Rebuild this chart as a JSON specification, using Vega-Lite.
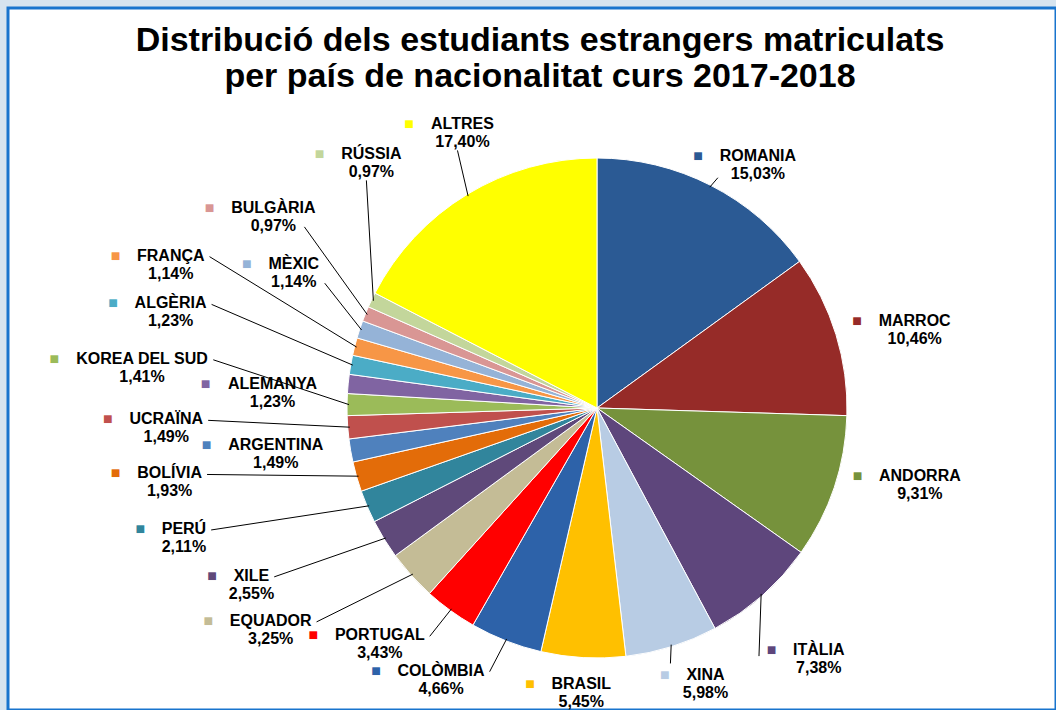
{
  "$schema": "https://vega.github.io/schema/vega-lite/v6.json",
  "width": 1056,
  "height": 710,
  "autosize": {"type": "fit", "contains": "padding"},
  "padding": {"left": 8, "top": 8, "right": 0, "bottom": 0},
  "background": "#D6E4EF",
  "view": {"fill": "#FFFFFF", "stroke": "#1874CD", "strokeWidth": 3},
  "title": {
    "text": ["Distribució dels estudiants estrangers matriculats", "per país de nacionalitat curs 2017-2018"],
    "font": "Liberation Sans",
    "fontSize": 34,
    "fontWeight": "bold",
    "color": "#000000",
    "anchor": "middle",
    "frame": "group",
    "offset": -86,
    "lineHeight": 36,
    "dx": 8
  },
  "data": {
    "values": [
      {"ordre": 1, "pais": "ROMANIA", "pct": 15.03},
      {"ordre": 2, "pais": "MARROC", "pct": 10.46},
      {"ordre": 3, "pais": "ANDORRA", "pct": 9.31},
      {"ordre": 4, "pais": "ITÀLIA", "pct": 7.38},
      {"ordre": 5, "pais": "XINA", "pct": 5.98},
      {"ordre": 6, "pais": "BRASIL", "pct": 5.45},
      {"ordre": 7, "pais": "COLÒMBIA", "pct": 4.66},
      {"ordre": 8, "pais": "PORTUGAL", "pct": 3.43},
      {"ordre": 9, "pais": "EQUADOR", "pct": 3.25},
      {"ordre": 10, "pais": "XILE", "pct": 2.55},
      {"ordre": 11, "pais": "PERÚ", "pct": 2.11},
      {"ordre": 12, "pais": "BOLÍVIA", "pct": 1.93},
      {"ordre": 13, "pais": "ARGENTINA", "pct": 1.49},
      {"ordre": 14, "pais": "UCRAÏNA", "pct": 1.49},
      {"ordre": 15, "pais": "KOREA DEL SUD", "pct": 1.41},
      {"ordre": 16, "pais": "ALEMANYA", "pct": 1.23},
      {"ordre": 17, "pais": "ALGÈRIA", "pct": 1.23},
      {"ordre": 18, "pais": "FRANÇA", "pct": 1.14},
      {"ordre": 19, "pais": "MÈXIC", "pct": 1.14},
      {"ordre": 20, "pais": "BULGÀRIA", "pct": 0.97},
      {"ordre": 21, "pais": "RÚSSIA", "pct": 0.97},
      {"ordre": 22, "pais": "ALTRES", "pct": 17.40}
    ]
  },
  "transform": [
    {"window": [{"op": "sum", "field": "pct", "as": "cum"}], "sort": [{"field": "ordre", "order": "ascending"}], "frame": [null, 0]},
    {"joinaggregate": [{"op": "sum", "field": "pct", "as": "total"}]},
    {"calculate": "(datum.cum - datum.pct / 2) / datum.total * 2 * PI", "as": "mid"},
    {"calculate": "[290, 326, 331, 335, 296, 285, 310, 319, 391, 387, 431, 431, 324, 431, 455, 324, 437, 449, 330, 372, 309, 305][datum.ordre - 1]", "as": "r"},
    {"calculate": "[29, 6, 9, 0, 20, 0, -43, -30, -36, -16, -17, -13, -2, -1, 0, -2, 4, 9, 10, 21, 53, 24][datum.ordre - 1]", "as": "ndx"},
    {"calculate": "[15, 18, -28, 0, -6, 0, -17, -22, -40, -26, -40, -44, -9, -13, -34, 16, -20, -33, -31, -51, -111, -14][datum.ordre - 1]", "as": "ndy"},
    {"calculate": "[5, -1, -1, 2, 6, -1, 0, 0, 0, 0, 0, 0, -1, 0, 0, -1, 0, 0, 4, 4, 1, 1][datum.ordre - 1]", "as": "code"},
    {"calculate": "replace(format(datum.pct, '.2f'), '.', ',') + '%'", "as": "etiqueta"},
    {"calculate": "length(datum.pais) - length(replace(datum.pais, regexp('[IÍÏ ]', 'g'), ''))", "as": "c1"},
    {"calculate": "length(datum.pais) - length(replace(datum.pais, regexp('[FLT]', 'g'), ''))", "as": "c2"},
    {"calculate": "length(datum.pais) - length(replace(datum.pais, regexp('[EÈPSVXY]', 'g'), ''))", "as": "c3"},
    {"calculate": "length(datum.pais) - length(replace(datum.pais, regexp('[GOÒQ]', 'g'), ''))", "as": "c4"},
    {"calculate": "length(datum.pais) - length(replace(datum.pais, regexp('M', 'g'), ''))", "as": "c5"},
    {"calculate": "16 * (0.722 * (length(datum.pais) - datum.c1 - datum.c2 - datum.c3 - datum.c4 - datum.c5) + 0.278 * datum.c1 + 0.611 * datum.c2 + 0.667 * datum.c3 + 0.778 * datum.c4 + 0.833 * datum.c5)", "as": "w"},
    {"calculate": "589 + datum.r * sin(datum.mid) + datum.ndx", "as": "ax"},
    {"calculate": "400 - datum.r * cos(datum.mid) + datum.ndy", "as": "ay"},
    {"calculate": "datum.ax - datum.w / 2 - 21.5", "as": "mx"},
    {"calculate": "589 + 248 * sin(datum.mid)", "as": "px"},
    {"calculate": "400 - 248 * cos(datum.mid)", "as": "py"},
    {"calculate": "datum.code == 0 ? datum.ax + datum.w / 2 + 5 : datum.code == 1 ? datum.ax - 5 : datum.code == 2 ? datum.ax - datum.w / 2 - 34 : datum.code == 4 ? datum.ax + 31 : datum.code == 5 ? datum.ax - 40 : datum.ax - datum.w / 2 - 16", "as": "ex"},
    {"calculate": "datum.code == 0 ? datum.ay - 8 : datum.code == 1 ? datum.ay + 17 : datum.code == 2 ? datum.ay - 3 : datum.code == 4 ? datum.ay + 10 : datum.code == 5 ? datum.ay + 13 : datum.ay - 21", "as": "ey"}
  ],
  "layer": [
    {
      "mark": {"type": "arc", "radius": 250, "stroke": "#FFFFFF", "strokeWidth": 1},
      "encoding": {
        "theta": {"field": "pct", "type": "quantitative", "stack": true},
        "order": {"field": "ordre", "type": "quantitative", "sort": "ascending"},
        "color": {
          "field": "pais",
          "type": "nominal",
          "legend": null,
          "scale": {
            "domain": ["ROMANIA", "MARROC", "ANDORRA", "ITÀLIA", "XINA", "BRASIL", "COLÒMBIA", "PORTUGAL", "EQUADOR", "XILE", "PERÚ", "BOLÍVIA", "ARGENTINA", "UCRAÏNA", "KOREA DEL SUD", "ALEMANYA", "ALGÈRIA", "FRANÇA", "MÈXIC", "BULGÀRIA", "RÚSSIA", "ALTRES"],
            "range": ["#2B5A94", "#962B28", "#76923C", "#5E467C", "#B8CCE4", "#FFC000", "#2D62A9", "#FF0000", "#C4BC96", "#5F497A", "#31859C", "#E36C09", "#4F81BD", "#C0504D", "#9BBB59", "#8064A2", "#4BACC6", "#F79646", "#95B3D7", "#D99694", "#C3D69B", "#FFFF00"]
          }
        },
        "x": {"value": 589},
        "y": {"value": 400}
      }
    },
    {
      "transform": [{"filter": "datum.code >= 0"}],
      "mark": {"type": "rule", "color": "#000000", "strokeWidth": 1},
      "encoding": {
        "x": {"field": "ex", "type": "quantitative", "scale": null},
        "y": {"field": "ey", "type": "quantitative", "scale": null},
        "x2": {"field": "px"},
        "y2": {"field": "py"}
      }
    },
    {
      "mark": {"type": "text", "font": "Liberation Sans", "fontSize": 16, "fontWeight": "bold", "align": "center", "baseline": "middle", "dy": -9, "text": "\u25a0"},
      "encoding": {
        "x": {"field": "mx", "type": "quantitative", "scale": null},
        "y": {"field": "ay", "type": "quantitative", "scale": null},
        "color": {"field": "pais", "type": "nominal", "legend": null}
      }
    },
    {
      "mark": {"type": "text", "font": "Liberation Sans", "fontSize": 16, "fontWeight": "bold", "align": "center", "baseline": "middle", "fill": "#000000", "dy": -9},
      "encoding": {
        "x": {"field": "ax", "type": "quantitative", "scale": null},
        "y": {"field": "ay", "type": "quantitative", "scale": null},
        "text": {"field": "pais"}
      }
    },
    {
      "mark": {"type": "text", "font": "Liberation Sans", "fontSize": 16, "fontWeight": "bold", "align": "center", "baseline": "middle", "fill": "#000000", "dy": 9},
      "encoding": {
        "x": {"field": "ax", "type": "quantitative", "scale": null},
        "y": {"field": "ay", "type": "quantitative", "scale": null},
        "text": {"field": "etiqueta"}
      }
    }
  ]
}
